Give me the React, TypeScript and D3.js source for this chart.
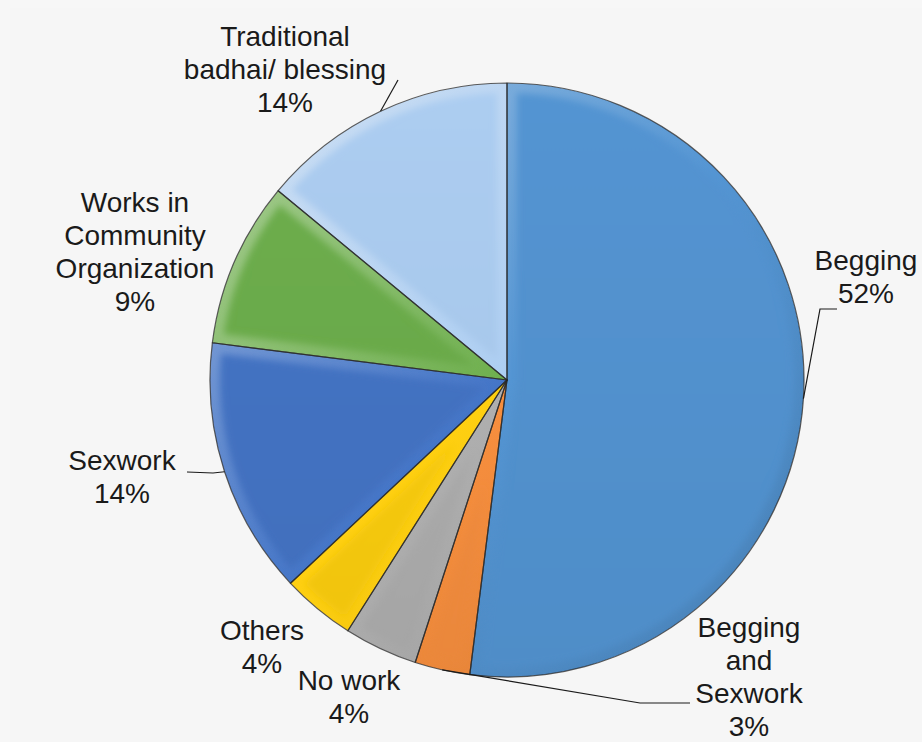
import React from "react";
import * as d3 from "d3";

// Occupation shares (%), clockwise from 12 o'clock
const categories = [
  "Begging",
  "Begging and Sexwork",
  "No work",
  "Others",
  "Sexwork",
  "Works in Community Organization",
  "Traditional badhai/ blessing",
];
const shares = [52, 3, 4, 4, 14, 9, 14];
const sliceColors = ["#5190cc", "#ef8a3c", "#a9a9a9", "#f5c810", "#4271c0", "#6aa94a", "#a7c7ea"];
const labelLines = [
  ["Begging"],
  ["Begging", "and", "Sexwork"],
  ["No work"],
  ["Others"],
  ["Sexwork"],
  ["Works in", "Community", "Organization"],
  ["Traditional", "badhai/ blessing"],
];

const W = 922;
const H = 742;
const CX = 507;
const CY = 380;
const R = 297;
const BEVEL = 10;
const LINE_H = 33;

// label anchor (centre x, first baseline y) and leader elbow points
const labelAnchors: [number, number][] = [
  [866, 270],
  [749, 637],
  [349, 690],
  [262, 640],
  [122, 470],
  [135, 212],
  [285, 46],
];
const leaderElbows: [number, number][][] = [
  [[820, 309], [837, 309]],
  [[640, 703], [690, 703]],
  [],
  [],
  [[213, 473], [187, 472]],
  [],
  [[398, 80]],
];

type Slice = d3.PieArcDatum<number>;

// wedge shrunk by d on every side, used as the flat face above the bevel
function insetPath(s: Slice, d: number): string {
  const a0 = s.startAngle;
  const a1 = s.endAngle;
  const theta = a1 - a0;
  const Ri = R - d;
  const da = Math.asin(d / Ri);
  const mid = (a0 + a1) / 2;
  const apexDist = d / Math.max(Math.sin(theta / 2), 0.05);
  const pt = (ang: number, rad: number): [number, number] => [
    Math.sin(ang) * rad,
    -Math.cos(ang) * rad,
  ];
  const apex = pt(mid, apexDist);
  const b0 = a0 + da;
  const b1 = a1 - da;
  if (b1 <= b0 || apexDist >= Ri) return "";
  const p0 = pt(b0, Ri);
  const p1 = pt(b1, Ri);
  const large = b1 - b0 > Math.PI ? 1 : 0;
  return `M${apex[0]},${apex[1]}L${p0[0]},${p0[1]}A${Ri},${Ri} 0 ${large} 1 ${p1[0]},${p1[1]}Z`;
}

export default function App() {
  const pie = d3
    .pie<number>()
    .sort(null)
    .value((v) => v)
    .startAngle(0)
    .endAngle(2 * Math.PI);
  const arcs = pie(shares);
  const arcGen = d3.arc<Slice>().innerRadius(0).outerRadius(R);

  return (
    <svg
      width={W}
      height={H}
      style={{ position: "absolute", left: 0, top: 0, background: "#f7f7f7" }}
      fontFamily="'Liberation Sans', Arial, sans-serif"
    >
      <defs>
        <filter id="soft" x="-20%" y="-20%" width="140%" height="140%">
          <feGaussianBlur stdDeviation={3.5} />
        </filter>
        {arcs.map((s, i) => (
          <clipPath key={`clip${i}`} id={`clip${i}`}>
            <path d={arcGen(s) || ""} transform={`translate(${CX},${CY})`} />
          </clipPath>
        ))}
        {sliceColors.map((c, i) => {
          const base = d3.color(c)!;
          return (
            <React.Fragment key={i}>
              <linearGradient
                id={`rim${i}`}
                gradientUnits="userSpaceOnUse"
                x1={-R}
                y1={-R}
                x2={R}
                y2={R}
              >
                <stop offset="0" stopColor={d3.interpolateRgb(c, "#ffffff")(0.45)} />
                <stop offset="0.5" stopColor={base.brighter(0.1).formatHex()} />
                <stop offset="1" stopColor={base.darker(0.35).formatHex()} />
              </linearGradient>
              <linearGradient
                id={`face${i}`}
                gradientUnits="userSpaceOnUse"
                x1={0}
                y1={-R}
                x2={0}
                y2={R}
              >
                <stop offset="0" stopColor={base.brighter(0.08).formatHex()} />
                <stop offset="1" stopColor={base.darker(0.06).formatHex()} />
              </linearGradient>
            </React.Fragment>
          );
        })}
      </defs>
      <rect x={10} y={8} width={W - 10} height={H - 8} fill="#f6f6f6" />

      {arcs.map((s, i) => (
        <g key={`slice${i}`} clipPath={`url(#clip${i})`}>
          <g transform={`translate(${CX},${CY})`}>
            <path d={arcGen(s) || ""} fill={`url(#rim${i})`} />
            <path d={insetPath(s, BEVEL)} fill={`url(#face${i})`} filter="url(#soft)" />
          </g>
        </g>
      ))}
      <g transform={`translate(${CX},${CY})`}>
        {arcs.map((s, i) => (
          <path
            key={`edge${i}`}
            d={arcGen(s) || ""}
            fill="none"
            stroke="#262626"
            strokeOpacity={0.75}
            strokeWidth={1.2}
            strokeLinejoin="round"
          />
        ))}
      </g>

      {/* leader lines */}
      {arcs.map((s, i) => {
        const elbows = leaderElbows[i];
        if (!elbows.length) return null;
        const mid = (s.startAngle + s.endAngle) / 2;
        const start: [number, number] = [CX + Math.sin(mid) * R, CY - Math.cos(mid) * R];
        const pts = [start, ...elbows];
        return (
          <path
            key={`lead${i}`}
            d={d3.line()(pts) || ""}
            fill="none"
            stroke="#1a1a1a"
            strokeWidth={1.2}
          />
        );
      })}

      {/* category labels */}
      {categories.map((c, i) => {
        const [x, y] = labelAnchors[i];
        const lines = [...labelLines[i], `${shares[i]}%`];
        return (
          <text key={c} x={x} y={y} textAnchor="middle" fontSize={28} fill="#1a1a1a">
            {lines.map((t, j) => (
              <tspan key={j} x={x} y={y + j * LINE_H}>
                {t}
              </tspan>
            ))}
          </text>
        );
      })}
    </svg>
  );
}
